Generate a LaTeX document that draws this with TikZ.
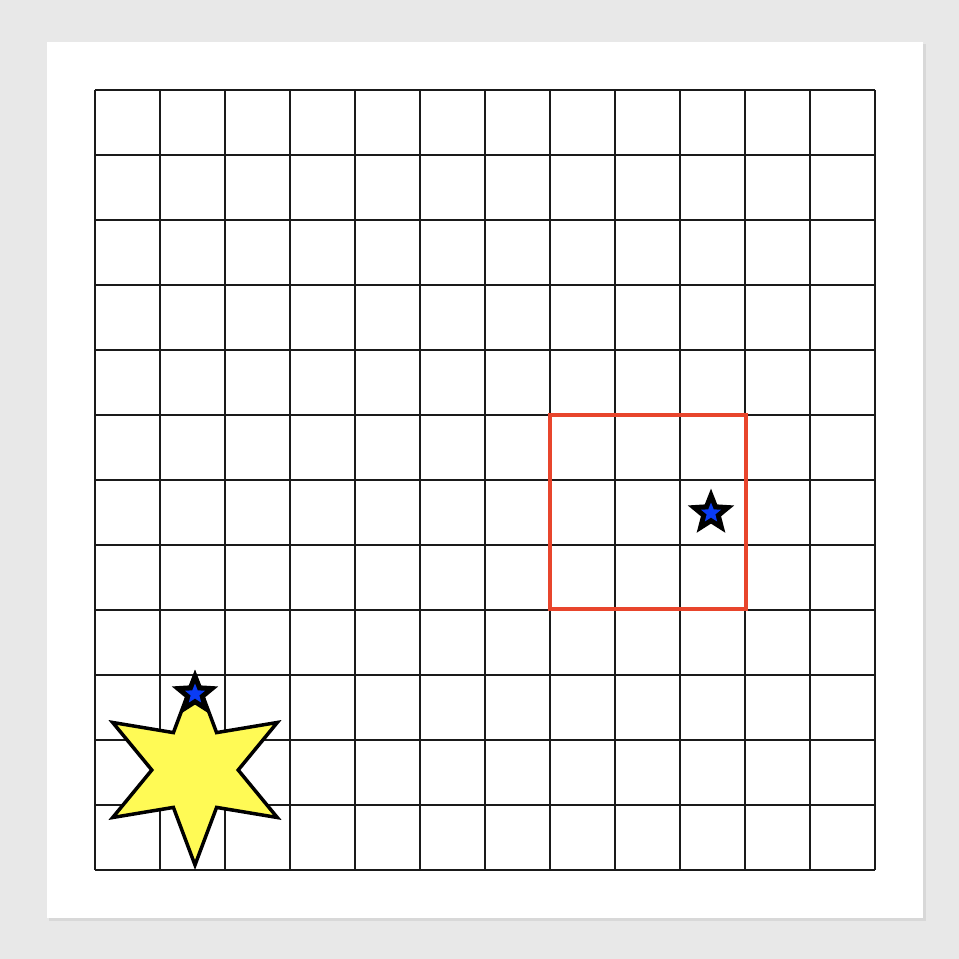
\documentclass[tikz,border=0pt]{standalone}
\usetikzlibrary{shapes.geometric}
\definecolor{bgray}{HTML}{E8E8E8}
\definecolor{shadowgray}{HTML}{D8D8D8}
\definecolor{gridcol}{HTML}{1A1A1A}
\definecolor{boxred}{HTML}{E8452C}
\definecolor{staryellow}{HTML}{FFFA55}
\definecolor{starblue}{HTML}{0A3CF5}
\tikzset{
  gridline/.style={line width=2pt, draw=gridcol},
  redbox/.style={line width=3.5pt, draw=boxred},
  bigstar/.style={star, star points=6, star point ratio=2.2, minimum size=190pt, inner sep=0pt, fill=staryellow, draw=black, line width=3.5pt},
  darkstar/.style={star, star points=5, star point ratio=2.3, minimum size=42pt, inner sep=0pt, fill=black, draw=black, line width=2.5pt},
  bluestar/.style={star, star points=5, star point ratio=2.3, minimum size=21pt, inner sep=0pt, fill=starblue},
}
\begin{document}
\begin{tikzpicture}[x=1pt,y=-1pt]
\useasboundingbox (0,0) rectangle (959,959);
\fill[bgray] (0,0) rectangle (959,959);
\fill[shadowgray] (49,44) rectangle (926,921);
\fill[white] (47,42) rectangle (923,918);
\foreach \i in {0,...,12} {
  \draw[gridline] ({95+65*\i},90) -- ({95+65*\i},870);
  \draw[gridline] (95,{90+65*\i}) -- (875,{90+65*\i});
}
\draw[redbox] (550,415) rectangle (746,609);
\node[bigstar] (big) at (195,770) {};
\node[darkstar] (s1) at (195,694) {};
\node[bluestar] (b1) at (s1.center) {};
\node[darkstar] (s2) at (711,513) {};
\node[bluestar] (b2) at (s2.center) {};
\end{tikzpicture}
\end{document}
